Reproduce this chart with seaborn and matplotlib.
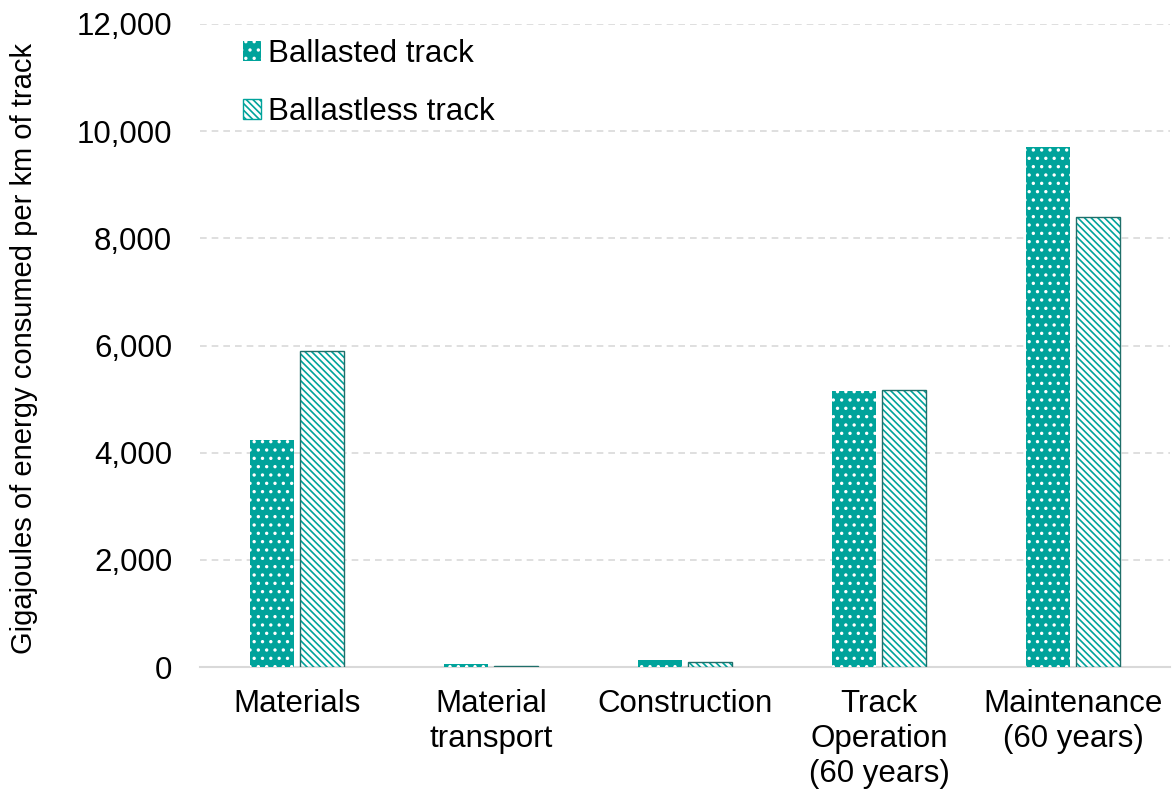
import pandas as pd
import matplotlib.pyplot as plt
import seaborn as sns
from matplotlib.patches import Patch, Rectangle
from matplotlib.ticker import FuncFormatter

# data
categories = ['Materials', 'Material\ntransport', 'Construction',
              'Track\nOperation\n(60 years)', 'Maintenance\n(60 years)']
ballasted = [4240, 50, 130, 5150, 9700]
ballastless = [5900, 20, 90, 5170, 8400]
series = ['Ballasted track', 'Ballastless track']

teal = '#00A39B'
dark_teal = '#1F6F6A'

df = pd.DataFrame({
    'Category': categories * 2,
    'Energy': ballasted + ballastless,
    'Track': [series[0]] * 5 + [series[1]] * 5,
})

sns.set_style("white")
plt.rcParams['font.family'] = ['Liberation Sans', 'DejaVu Sans']
plt.rcParams['hatch.linewidth'] = 1.2

fig, ax = plt.subplots(figsize=(11.76, 7.98), dpi=100)
sns.barplot(data=df, x='Category', y='Energy', hue='Track', order=categories,
            hue_order=series, palette=[teal, 'white'], width=0.515, gap=0.12,
            legend=False, ax=ax, zorder=3)

# style the bars: dotted teal and hatched white
for bar in ax.containers[0]:
    bar.set_facecolor(teal)
    bar.set_edgecolor('white')
    bar.set_hatch('..')
    bar.set_linewidth(0)
for bar in ax.containers[1]:
    bar.set_facecolor('white')
    bar.set_edgecolor(teal)
    bar.set_hatch('\\\\\\\\\\')
    bar.set_linewidth(0)
    # darker outline on top of the hatch
    ax.add_patch(Rectangle(bar.get_xy(), bar.get_width(), bar.get_height(),
                           facecolor='none', edgecolor=dark_teal, linewidth=1.0, zorder=4))

ax.set_ylim(0, 12000)
ax.set_xlim(-0.5, 4.5)
ax.set_yticks(range(0, 12001, 2000))
ax.yaxis.set_major_formatter(FuncFormatter(lambda v, p: f'{int(v):,}'))
ax.grid(axis='y', color='#D9D9D9', linestyle=(0, (4, 3)), linewidth=1.2, zorder=0)
ax.set_axisbelow(True)
for s in ['top', 'right', 'left']:
    ax.spines[s].set_visible(False)
ax.spines['bottom'].set_color('#D9D9D9')
ax.spines['bottom'].set_linewidth(1.5)
ax.tick_params(axis='x', length=0, labelsize=22.5, labelcolor='black', pad=16)
ax.tick_params(axis='y', length=0, labelsize=22.5, labelcolor='black', pad=20)
ax.set_xlabel('')
ax.set_ylabel('Gigajoules of energy consumed per km of track', fontsize=21, color='black')
ax.yaxis.set_label_coords(-0.167, 0.495)

handles = [
    Patch(facecolor=teal, edgecolor='white', hatch='..', linewidth=0, label=series[0]),
    Patch(facecolor='white', edgecolor=teal, hatch='\\\\\\\\\\', linewidth=1, label=series[1]),
]
leg = ax.legend(handles=handles, loc='upper left', bbox_to_anchor=(0.015, 1.02), frameon=False,
                fontsize=22.5, handlelength=0.6, handleheight=0.6, handletextpad=0.2,
                labelspacing=0.9)
for t in leg.get_texts():
    t.set_color('black')

plt.subplots_adjust(left=0.170, right=0.995, top=0.970, bottom=0.164)
plt.savefig('out.png', dpi=100)
